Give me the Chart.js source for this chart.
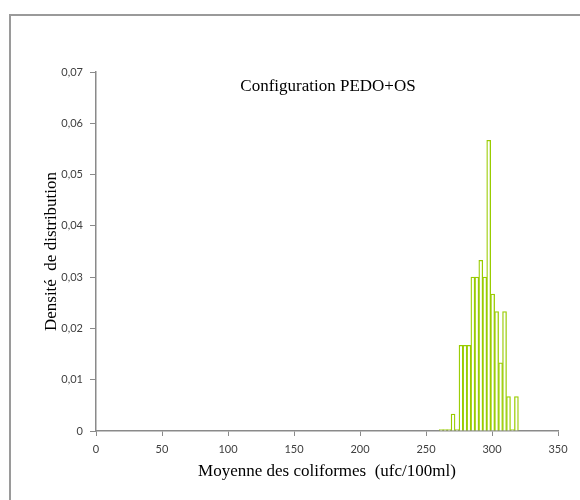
<!DOCTYPE html>
<html>
<head>
<meta charset="utf-8">
<script src="https://cdn.jsdelivr.net/npm/chart.js@4/dist/chart.umd.min.js"></script>
<style>
  body { margin: 0; background: #fff; }
  #frame { position: absolute; left: 9px; top: 14px; width: 600px; height: 520px;
           border-left: 2px solid #9a9a9a; border-top: 2px solid #9a9a9a; }
  #wrap { position: absolute; left: 0; top: 0; width: 580px; height: 500px; }
</style>
</head>
<body>
<div id="frame"></div>
<div id="wrap"><canvas id="hist"></canvas></div>
<script>
// centres des classes (largeur 3 ufc/100ml) et densités
const binCenters = [261.5, 264.5, 267.5, 270.5, 273.5, 276.5, 279.5, 282.5, 285.5, 288.5,
                    291.5, 294.5, 297.5, 300.5, 303.5, 306.5, 309.5, 312.5, 315.5, 318.5];
const density = [0, 0, 0, 0.0033, 0, 0.0167, 0.0167, 0.0167, 0.03, 0.03,
                 0.0333, 0.03, 0.0567, 0.0267, 0.0233, 0.0133, 0.0233, 0.0067, 0, 0.0067];
const xTicks = [0, 50, 100, 150, 200, 250, 300, 350];
const yTicks = [0, 0.01, 0.02, 0.03, 0.04, 0.05, 0.06, 0.07];

const chartTitle = 'Configuration PEDO+OS';
const xTitle = 'Moyenne des coliformes  (ufc/100ml)';
const yTitle = 'Densité  de distribution';

const axisGray = '#8a8a8a';
const tickFont = { family: 'Lato', size: 11 };
const serif = { family: '"Liberation Serif", "Times New Roman", serif', size: 17 };

// titre dessiné à l'intérieur de la zone de tracé
const innerTitle = {
    id: 'innerTitle',
    afterDraw(chart) {
        const { ctx, chartArea } = chart;
        ctx.save();
        ctx.font = '17px "Liberation Serif", serif';
        ctx.fillStyle = '#000';
        ctx.textAlign = 'center';
        ctx.textBaseline = 'middle';
        ctx.fillText(chartTitle, (chartArea.left + chartArea.right) / 2 + 1, 87);
        ctx.restore();
    }
};

new Chart(document.getElementById('hist'), {
    type: 'bar',
    data: {
        datasets: [{
            data: binCenters.map((x, i) => ({ x: x, y: density[i] })),
            backgroundColor: '#ffffff',
            borderColor: '#99cc00',
            borderWidth: 1.3,
            borderSkipped: 'start',
            minBarLength: 1.5,
            categoryPercentage: 1,
            barPercentage: 1,
        }]
    },
    options: {
        responsive: true,
        maintainAspectRatio: false,
        animation: false,
        layout: { padding: { left: 41, top: 72, right: 22, bottom: 18 } },
        plugins: { legend: { display: false }, tooltip: { enabled: false } },
        scales: {
            x: {
                type: 'linear',
                min: 0,
                max: 350,
                offset: false,
                afterBuildTicks: s => { s.ticks = xTicks.map(v => ({ value: v })); },
                afterFit: s => { s.height = 51; },
                border: { color: axisGray, width: 1.5 },
                grid: { offset: false, drawOnChartArea: false, color: axisGray, tickLength: 5 },
                ticks: { color: '#404040', font: tickFont, padding: 7, maxRotation: 0 },
                title: { display: true, text: xTitle, color: '#000', font: serif, padding: 0 }
            },
            y: {
                min: 0,
                max: 0.07,
                afterBuildTicks: s => { s.ticks = yTicks.map(v => ({ value: v })); },
                afterFit: s => { s.width = 55; },
                border: { color: axisGray, width: 1.5 },
                grid: { drawOnChartArea: false, color: axisGray, tickLength: 6 },
                ticks: {
                    color: '#404040', font: tickFont, padding: 7,
                    callback: v => v === 0 ? '0' : v.toFixed(2).replace('.', ',')
                },
                title: { display: true, text: yTitle, color: '#000', font: serif, padding: 0 }
            }
        }
    },
    plugins: [innerTitle]
});
</script>
</body>
</html>
